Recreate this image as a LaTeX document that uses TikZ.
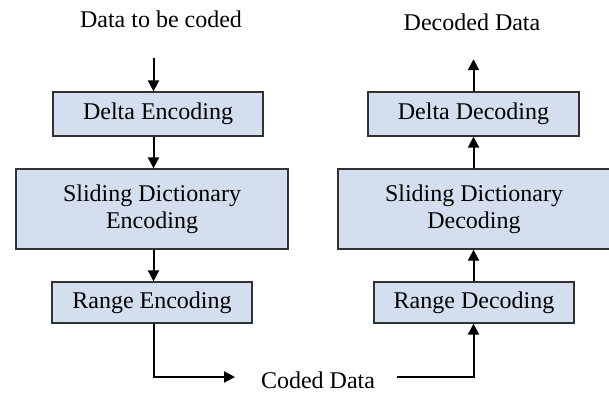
\documentclass[tikz,border=0pt]{standalone}
\usepackage{fontspec}
\setmainfont{Liberation Serif}
\usetikzlibrary{arrows.meta}
\definecolor{boxfill}{RGB}{211,223,238}
\definecolor{boxline}{RGB}{50,50,50}
\begin{document}
\begin{tikzpicture}[x=1pt,y=-1pt,
  every node/.style={font=\fontsize{24}{26}\selectfont},
  blk/.style={draw=boxline,line width=1.3pt,fill=boxfill,inner sep=0pt,align=center},
  lbl/.style={inner sep=0pt,align=center},
  arr/.style={line width=2pt,-{Triangle[length=11pt,width=11pt]}},
  ln/.style={line width=2pt}]
\useasboundingbox (0,0) rectangle (609,392);
\coordinate (colL) at (153.5,0);
\coordinate (colR) at (473.5,0);
% left column
\node[lbl,minimum height=38pt,minimum width=220pt] (in1) at (161,19) {Data to be coded};
\node[blk,minimum width=210pt,minimum height=44pt] (denc) at (158,114) {Delta Encoding};
\node[blk,minimum width=272pt,minimum height=80pt] (senc) at (152,209) {Sliding Dictionary\\[1pt]Encoding};
\node[blk,minimum width=200pt,minimum height=41pt] (renc) at (152,302.5) {Range Encoding};
% right column
\node[lbl,minimum height=46pt,minimum width=167pt] (out1) at (472,22) {Decoded Data};
\node[blk,minimum width=211pt,minimum height=44pt] (ddec) at (473.5,114) {Delta Decoding};
\node[blk,minimum width=272pt,minimum height=80pt] (sdec) at (474,209) {Sliding Dictionary\\[1pt]Decoding};
\node[blk,minimum width=200pt,minimum height=41pt] (rdec) at (474,302.5) {Range Decoding};
% coded data
\node[lbl] (coded) at (318,380) {Coded Data};
\coordinate (c1) at (235,377);
\coordinate (c2) at (397,377);
% connectors left
\draw[arr,shorten <=20pt] (in1.south -| colL) -- (denc.north -| colL);
\draw[arr] (denc.south -| colL) -- (senc.north -| colL);
\draw[arr] (senc.south -| colL) -- (renc.north -| colL);
\draw[arr] (renc.south -| colL) |- (c1);
% connectors right
\draw[arr] (c2) -| (rdec.south -| colR);
\draw[arr] (rdec.north -| colR) -- (sdec.south -| colR);
\draw[arr] (sdec.north -| colR) -- (ddec.south -| colR);
\draw[arr,shorten >=14pt] (ddec.north -| colR) -- (out1.south -| colR);
\end{tikzpicture}
\end{document}
